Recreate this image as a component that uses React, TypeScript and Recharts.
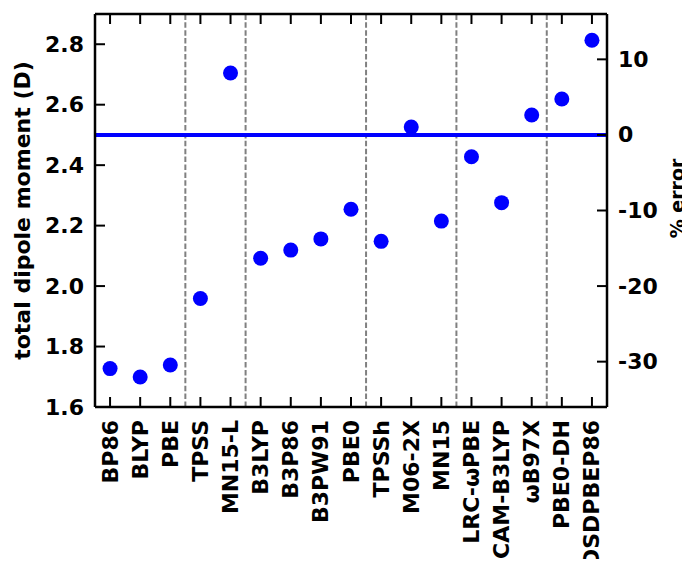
import React from "react";
import {
  ComposedChart,
  Scatter,
  XAxis,
  YAxis,
  ReferenceLine,
} from "recharts";

const methods = [
  "BP86", "BLYP", "PBE", "TPSS", "MN15-L", "B3LYP", "B3P86", "B3PW91", "PBE0",
  "TPSSh", "M06-2X", "MN15", "LRC-ωPBE", "CAM-B3LYP", "ωB97X", "PBE0-DH", "DSDPBEP86",
];
const dipole = [
  1.727, 1.699, 1.739, 1.959, 2.705, 2.092, 2.119, 2.156, 2.254,
  2.148, 2.526, 2.215, 2.428, 2.276, 2.566, 2.619, 2.813,
];
const groupBoundaries = [2.5, 4.5, 8.5, 11.5, 14.5];
const referenceDipole = 2.5;
const leftTicks = [1.6, 1.8, 2.0, 2.2, 2.4, 2.6, 2.8];
const rightTicks = [-30, -20, -10, 0, 10];
const xTicks = methods.map((_, i) => i);
const leftTitle = "total dipole moment (D)";
const rightTitle = "% error";

const leftDomain: [number, number] = [1.6, 2.9];
const rightDomain: [number, number] = [
  (leftDomain[0] / referenceDipole - 1) * 100,
  (leftDomain[1] / referenceDipole - 1) * 100,
];

const points = methods.map((m, i) => ({ x: i, y: dipole[i], name: m }));

const CHART_W = 682;
const CHART_H = 559;
const RIGHT_W = 83;
const LEFT_W = 87;
const TOP_H = 6;
const BOTTOM_H = 160;

const FONT = "'DejaVu Sans', sans-serif";
const FS = 22;
const TICK_LEN = 10;

const BottomTick = (props: any) => {
  const { x, y, payload } = props;
  return (
    <g>
      <line x1={x} x2={x} y1={y} y2={y - TICK_LEN} stroke="#000" strokeWidth={2} />
      <text
        x={0}
        y={0}
        transform={`translate(${x},${y + 13}) rotate(-90)`}
        textAnchor="end"
        dominantBaseline="central"
        fontFamily={FONT}
        fontWeight="bold"
        fontSize={FS}
        fill="#000"
      >
        {methods[payload.value]}
      </text>
    </g>
  );
};

const TopTick = (props: any) => {
  const { x, y } = props;
  return (
    <line x1={x} x2={x} y1={y} y2={y + TICK_LEN} stroke="#000" strokeWidth={2} />
  );
};

const LeftTick = (props: any) => {
  const { x, y, payload } = props;
  return (
    <g>
      <line x1={x} x2={x + TICK_LEN} y1={y} y2={y} stroke="#000" strokeWidth={2} />
      <text
        x={x - 11}
        y={y}
        textAnchor="end"
        dominantBaseline="central"
        fontFamily={FONT}
        fontWeight="bold"
        fontSize={FS}
        fill="#000"
      >
        {Number(payload.value).toFixed(1)}
      </text>
    </g>
  );
};

const RightTick = (props: any) => {
  const { x, y, payload } = props;
  return (
    <g>
      <line x1={x} x2={x - TICK_LEN} y1={y} y2={y} stroke="#000" strokeWidth={2} />
      <text
        x={x + 11}
        y={y}
        textAnchor="start"
        dominantBaseline="central"
        fontFamily={FONT}
        fontWeight="bold"
        fontSize={FS}
        fill="#000"
      >
        {Math.round(payload.value)}
      </text>
    </g>
  );
};

const plotMidY = TOP_H + (CHART_H - TOP_H - BOTTOM_H) / 2;

const Dot = (props: any) => {
  const { cx, cy } = props;
  return <circle cx={cx} cy={cy} r={7.5} fill="#0000ff" />;
};

export default function App() {
  return (
    <div style={{ position: "relative", width: CHART_W, height: CHART_H, marginBottom: -8 }}>
      <ComposedChart
        width={CHART_W}
        height={CHART_H}
        data={points}
        margin={{ top: 0, right: 0, bottom: 0, left: 0 }}
      >
        <XAxis
          xAxisId="bottom"
          dataKey="x"
          type="number"
          domain={[-0.5, methods.length - 0.5]}
          ticks={xTicks}
          interval={0}
          allowDataOverflow
          height={BOTTOM_H}
          tickSize={0}
          tickMargin={0}
          tickLine={false}
          axisLine={{ stroke: "#000", strokeWidth: 2.5 }}
          tick={<BottomTick />}
        />
        <XAxis
          xAxisId="top"
          orientation="top"
          dataKey="x"
          type="number"
          domain={[-0.5, methods.length - 0.5]}
          ticks={xTicks}
          interval={0}
          allowDataOverflow
          height={TOP_H}
          tickSize={0}
          tickMargin={0}
          tickLine={false}
          axisLine={{ stroke: "#000", strokeWidth: 2.5 }}
          tick={<TopTick />}
        />
        <YAxis
          yAxisId="left"
          type="number"
          domain={leftDomain}
          ticks={leftTicks}
          interval={0}
          allowDataOverflow
          width={LEFT_W}
          tickSize={0}
          tickMargin={0}
          tickLine={false}
          axisLine={{ stroke: "#000", strokeWidth: 2.5 }}
          tick={<LeftTick />}
        />
        <YAxis
          yAxisId="right"
          orientation="right"
          type="number"
          domain={rightDomain}
          ticks={rightTicks}
          interval={0}
          allowDataOverflow
          width={RIGHT_W}
          tickSize={0}
          tickMargin={0}
          tickLine={false}
          axisLine={{ stroke: "#000", strokeWidth: 2.5 }}
          tick={<RightTick />}
        />
        {groupBoundaries.map((b) => (
          <ReferenceLine
            key={b}
            x={b}
            xAxisId="bottom"
            yAxisId="left"
            stroke="#808080"
            strokeWidth={2}
            strokeDasharray="5.5 2.4"
          />
        ))}
        <ReferenceLine
          y={referenceDipole}
          xAxisId="bottom"
          yAxisId="left"
          stroke="#0000ff"
          strokeWidth={4}
        />
        <Scatter
          data={points}
          dataKey="y"
          xAxisId="bottom"
          yAxisId="left"
          shape={<Dot />}
          isAnimationActive={false}
        />
      </ComposedChart>
      <svg
        width={CHART_W}
        height={CHART_H}
        style={{ position: "absolute", left: 0, top: 0, pointerEvents: "none", overflow: "visible" }}
      >
        <text
          transform={`translate(14,${plotMidY}) rotate(-90)`}
          textAnchor="middle"
          dominantBaseline="central"
          fontFamily={FONT}
          fontWeight="bold"
          fontSize={FS}
          fill="#000"
        >
          {leftTitle}
        </text>
        <text
          transform={`translate(${CHART_W - RIGHT_W + 70},${plotMidY - 12}) rotate(-90)`}
          textAnchor="middle"
          dominantBaseline="central"
          fontFamily={FONT}
          fontWeight="bold"
          fontSize={19}
          fill="#000"
        >
          {rightTitle}
        </text>
      </svg>
    </div>
  );
}
